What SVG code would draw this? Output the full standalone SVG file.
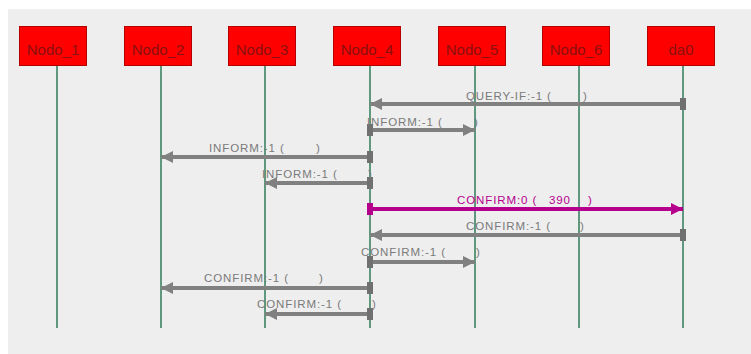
<svg xmlns="http://www.w3.org/2000/svg" width="751" height="354" viewBox="0 0 751 354">
<style>
.box{fill:#ff0000;stroke:#b40000;stroke-width:1}
.nt{font-family:"Liberation Sans",Arial,sans-serif;font-size:15px;fill:#8a1010;text-anchor:middle}
.life{stroke:#2f7a5a;stroke-width:1.5}
.msg{stroke:#808080;stroke-width:4;fill:none;marker-start:url(#sq);marker-end:url(#ah)}
.mag{stroke:#b5008e;stroke-width:4;fill:none;marker-start:url(#sqm);marker-end:url(#ahm)}
.lb{font-family:"Liberation Sans",Arial,sans-serif;font-size:11.5px;letter-spacing:0.9px;fill:#7a7a7a}
.lbm{font-family:"Liberation Sans",Arial,sans-serif;font-size:11.5px;letter-spacing:0.9px;fill:#b5008e}
</style>
<defs>
<marker id="ah" markerUnits="userSpaceOnUse" markerWidth="13" markerHeight="13" refX="12" refY="6" orient="auto" viewBox="0 0 13 13"><path d="M0,0 L12,6 L0,12 z" fill="#808080"/></marker>
<marker id="sq" markerUnits="userSpaceOnUse" markerWidth="12" markerHeight="13" refX="3" refY="6" orient="auto" viewBox="0 0 12 13"><rect x="0" y="0" width="6" height="12" fill="#707070"/></marker>
<marker id="ahm" markerUnits="userSpaceOnUse" markerWidth="13" markerHeight="13" refX="12" refY="6" orient="auto" viewBox="0 0 13 13"><path d="M0,0 L12,6 L0,12 z" fill="#b5008e"/></marker>
<marker id="sqm" markerUnits="userSpaceOnUse" markerWidth="12" markerHeight="13" refX="3" refY="6" orient="auto" viewBox="0 0 12 13"><rect x="0" y="0" width="6" height="12" fill="#b5008e"/></marker>
</defs>
<rect x="0" y="0" width="751" height="354" fill="#ffffff"/>
<rect x="8" y="9" width="743" height="345" fill="#eeeeee"/>
<g id="lifelines">
<line class="life" x1="57" y1="65" x2="57" y2="328"/>
<line class="life" x1="161" y1="65" x2="161" y2="328"/>
<line class="life" x1="265" y1="65" x2="265" y2="328"/>
<line class="life" x1="370" y1="65" x2="370" y2="328"/>
<line class="life" x1="475" y1="65" x2="475" y2="328"/>
<line class="life" x1="579" y1="65" x2="579" y2="328"/>
<line class="life" x1="683" y1="65" x2="683" y2="328"/>
</g>
<g id="Nodo_1"><rect class="box" x="19.5" y="26.5" width="67" height="39"/><text class="nt" x="53" y="54.5">Nodo_1</text></g>
<g id="Nodo_2"><rect class="box" x="124.5" y="26.5" width="67" height="39"/><text class="nt" x="158" y="54.5">Nodo_2</text></g>
<g id="Nodo_3"><rect class="box" x="228.5" y="26.5" width="67" height="39"/><text class="nt" x="262" y="54.5">Nodo_3</text></g>
<g id="Nodo_4"><rect class="box" x="333.5" y="26.5" width="67" height="39"/><text class="nt" x="367" y="54.5">Nodo_4</text></g>
<g id="Nodo_5"><rect class="box" x="438.5" y="26.5" width="67" height="39"/><text class="nt" x="472" y="54.5">Nodo_5</text></g>
<g id="Nodo_6"><rect class="box" x="542.5" y="26.5" width="67" height="39"/><text class="nt" x="576" y="54.5">Nodo_6</text></g>
<g id="da0"><rect class="box" x="647.5" y="26.5" width="67" height="39"/><text class="nt" x="681" y="54.5">da0</text></g>
<g id="connectors">
<line class="msg" x1="683" y1="104" x2="370" y2="104"/>
<text class="lb" x="466" y="100">QUERY-IF:-1 (<tspan x="583">)</tspan></text>
<line class="msg" x1="370" y1="130" x2="475" y2="130"/>
<text class="lb" x="367" y="126">INFORM:-1 (<tspan x="474">)</tspan></text>
<line class="msg" x1="370" y1="157" x2="161" y2="157"/>
<text class="lb" x="209" y="152">INFORM:-1 (<tspan x="316">)</tspan></text>
<line class="msg" x1="370" y1="183" x2="265" y2="183"/>
<text class="lb" x="262" y="178">INFORM:-1 (<tspan x="368">)</tspan></text>
<line class="mag" x1="370" y1="209" x2="683" y2="209"/>
<text class="lbm" x="457" y="204">CONFIRM:0 (<tspan x="549">390</tspan><tspan x="588">)</tspan></text>
<line class="msg" x1="683" y1="235" x2="370" y2="235"/>
<text class="lb" x="466" y="230">CONFIRM:-1 (<tspan x="580">)</tspan></text>
<line class="msg" x1="370" y1="262" x2="475" y2="262"/>
<text class="lb" x="361" y="256">CONFIRM:-1 (<tspan x="476">)</tspan></text>
<line class="msg" x1="370" y1="288" x2="161" y2="288"/>
<text class="lb" x="204" y="282">CONFIRM:-1 (<tspan x="319">)</tspan></text>
<line class="msg" x1="370" y1="314" x2="265" y2="314"/>
<text class="lb" x="257" y="308">CONFIRM:-1 (<tspan x="372">)</tspan></text>
</g>
</svg>
